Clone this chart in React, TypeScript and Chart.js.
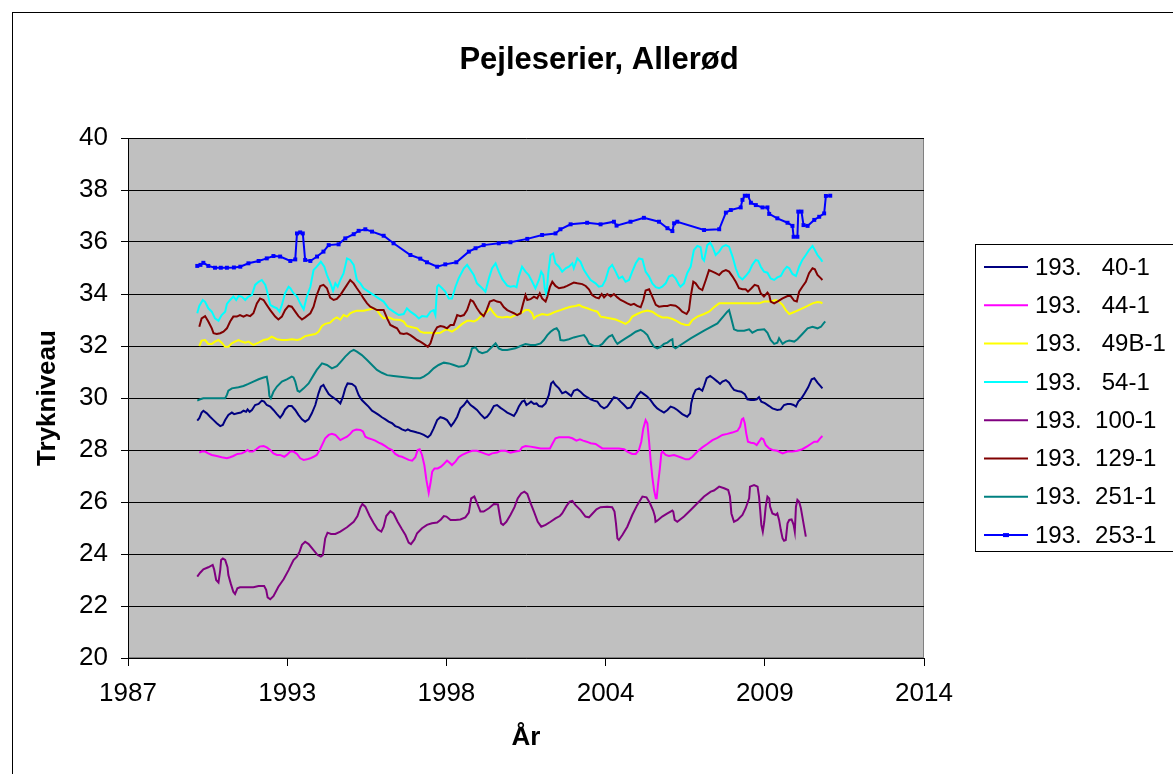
import React, { useEffect, useRef } from "react";
import { Chart, registerables } from "chart.js";

Chart.register(...registerables);

type Pt = [number, number];

const chartTitle = "Pejleserier, Allerød";
const xAxisTitle = "År";
const yAxisTitle = "Trykniveau";
const xTickLabels = ["1987", "1993", "1998", "2004", "2009", "2014"];
const xMin = 1987.608;
const xMax = 2014.984;
const yMin = 20;
const yMax = 40;
const yStep = 2;

const s40: Pt[] = [[1989.99,29.13],[1990.06,29.22],[1990.14,29.44],[1990.20,29.51],[1990.32,29.41],[1990.43,29.28],[1990.55,29.15],[1990.66,29.03],[1990.78,28.92],[1990.87,28.96],[1990.95,29.15],[1991.06,29.35],[1991.18,29.44],[1991.26,29.38],[1991.37,29.41],[1991.49,29.44],[1991.58,29.51],[1991.67,29.47],[1991.72,29.56],[1991.79,29.47],[1991.87,29.54],[1991.98,29.73],[1992.10,29.77],[1992.21,29.90],[1992.29,29.86],[1992.38,29.73],[1992.50,29.67],[1992.61,29.54],[1992.73,29.38],[1992.84,29.24],[1992.93,29.38],[1993.01,29.56],[1993.13,29.69],[1993.24,29.69],[1993.36,29.54],[1993.47,29.35],[1993.59,29.18],[1993.70,29.09],[1993.82,29.18],[1993.93,29.41],[1994.05,29.73],[1994.16,30.18],[1994.24,30.44],[1994.33,30.50],[1994.39,30.37],[1994.51,30.15],[1994.62,30.05],[1994.70,29.99],[1994.79,29.92],[1994.91,29.79],[1995.00,30.05],[1995.08,30.37],[1995.16,30.56],[1995.31,30.54],[1995.43,30.44],[1995.54,30.11],[1995.65,29.92],[1995.77,29.79],[1995.88,29.67],[1996.00,29.51],[1996.11,29.44],[1996.23,29.35],[1996.34,29.26],[1996.46,29.18],[1996.57,29.09],[1996.69,29.03],[1996.80,28.92],[1996.92,28.87],[1997.03,28.79],[1997.15,28.74],[1997.23,28.79],[1997.32,28.74],[1997.43,28.71],[1997.55,28.67],[1997.66,28.64],[1997.78,28.58],[1997.92,28.49],[1998.01,28.58],[1998.12,28.83],[1998.24,29.15],[1998.35,29.26],[1998.47,29.22],[1998.58,29.15],[1998.72,28.92],[1998.81,29.05],[1998.93,29.28],[1999.04,29.60],[1999.16,29.73],[1999.27,29.90],[1999.39,29.73],[1999.50,29.64],[1999.61,29.54],[1999.73,29.38],[1999.87,29.22],[1999.96,29.28],[2000.07,29.44],[2000.19,29.69],[2000.30,29.73],[2000.42,29.62],[2000.53,29.54],[2000.65,29.44],[2000.76,29.38],[2000.88,29.31],[2000.97,29.47],[2001.05,29.67],[2001.16,29.86],[2001.24,29.90],[2001.31,29.73],[2001.39,29.79],[2001.47,29.86],[2001.57,29.77],[2001.66,29.79],[2001.74,29.69],[2001.85,29.67],[2001.97,29.79],[2002.08,30.11],[2002.16,30.56],[2002.23,30.63],[2002.31,30.50],[2002.43,30.37],[2002.54,30.18],[2002.66,30.24],[2002.77,30.15],[2002.85,30.08],[2002.94,30.28],[2003.06,30.33],[2003.17,30.24],[2003.29,30.11],[2003.40,30.03],[2003.52,29.95],[2003.63,29.90],[2003.75,29.86],[2003.86,29.69],[2003.98,29.60],[2004.09,29.67],[2004.21,29.86],[2004.32,30.03],[2004.44,29.99],[2004.55,29.86],[2004.67,29.73],[2004.78,29.60],[2004.90,29.64],[2005.01,29.86],[2005.12,30.08],[2005.24,30.24],[2005.35,30.15],[2005.47,30.05],[2005.58,29.92],[2005.70,29.73],[2005.81,29.60],[2005.93,29.51],[2006.04,29.44],[2006.16,29.54],[2006.27,29.67],[2006.39,29.62],[2006.50,29.54],[2006.67,29.38],[2006.84,29.28],[2006.94,29.41],[2006.98,29.80],[2007.05,30.11],[2007.13,30.31],[2007.25,30.37],[2007.36,30.28],[2007.42,30.46],[2007.51,30.76],[2007.63,30.85],[2007.74,30.76],[2007.88,30.63],[2007.97,30.54],[2008.05,30.63],[2008.17,30.69],[2008.28,30.59],[2008.36,30.44],[2008.45,30.31],[2008.57,30.27],[2008.70,30.24],[2008.82,30.15],[2008.91,29.95],[2009.03,29.92],[2009.14,29.92],[2009.23,29.95],[2009.31,30.03],[2009.39,29.86],[2009.51,29.80],[2009.66,29.69],[2009.77,29.60],[2009.94,29.54],[2010.06,29.56],[2010.17,29.73],[2010.29,29.77],[2010.40,29.77],[2010.50,29.73],[2010.58,29.67],[2010.66,29.86],[2010.77,29.99],[2010.88,30.18],[2011.00,30.41],[2011.12,30.72],[2011.21,30.76],[2011.32,30.59],[2011.44,30.44],[2011.49,30.37]];

const s44: Pt[] = [[1990.06,27.90],[1990.14,27.94],[1990.26,27.94],[1990.37,27.87],[1990.49,27.81],[1990.66,27.77],[1990.83,27.72],[1991.01,27.68],[1991.12,27.72],[1991.23,27.77],[1991.37,27.85],[1991.52,27.87],[1991.64,27.94],[1991.72,28.00],[1991.79,27.94],[1991.90,27.94],[1992.02,28.03],[1992.13,28.13],[1992.27,28.15],[1992.38,28.10],[1992.50,28.00],[1992.61,27.87],[1992.73,27.81],[1992.84,27.81],[1992.98,27.74],[1993.07,27.81],[1993.19,27.94],[1993.30,27.94],[1993.42,27.85],[1993.53,27.68],[1993.65,27.62],[1993.76,27.64],[1993.88,27.68],[1993.99,27.74],[1994.10,27.81],[1994.20,28.00],[1994.28,28.19],[1994.39,28.45],[1994.51,28.58],[1994.62,28.62],[1994.74,28.58],[1994.85,28.45],[1994.91,28.38],[1995.02,28.45],[1995.14,28.51],[1995.25,28.62],[1995.34,28.74],[1995.46,28.79],[1995.60,28.77],[1995.69,28.71],[1995.77,28.51],[1995.88,28.45],[1996.00,28.41],[1996.11,28.36],[1996.23,28.28],[1996.34,28.23],[1996.46,28.15],[1996.57,28.06],[1996.69,28.00],[1996.80,27.85],[1996.92,27.77],[1997.03,27.74],[1997.15,27.68],[1997.26,27.62],[1997.38,27.59],[1997.49,27.72],[1997.57,28.00],[1997.64,28.03],[1997.72,27.81],[1997.80,27.42],[1997.87,26.85],[1997.95,26.36],[1998.01,26.72],[1998.07,27.17],[1998.15,27.29],[1998.26,27.29],[1998.37,27.36],[1998.47,27.46],[1998.58,27.59],[1998.67,27.51],[1998.75,27.42],[1998.87,27.55],[1998.98,27.72],[1999.10,27.81],[1999.27,27.90],[1999.44,27.97],[1999.61,27.97],[1999.79,27.90],[1999.90,27.85],[2000.02,27.81],[2000.13,27.87],[2000.30,27.90],[2000.42,27.97],[2000.59,27.97],[2000.76,27.90],[2000.93,27.94],[2001.08,27.97],[2001.16,28.10],[2001.28,28.15],[2001.45,28.13],[2001.62,28.10],[2001.80,28.06],[2002.12,28.06],[2002.20,28.23],[2002.31,28.45],[2002.43,28.49],[2002.60,28.49],[2002.77,28.49],[2002.89,28.45],[2003.03,28.36],[2003.15,28.41],[2003.26,28.36],[2003.38,28.32],[2003.52,28.26],[2003.69,28.23],[2003.80,28.15],[2003.92,28.06],[2004.09,28.06],[2004.32,28.06],[2004.49,28.06],[2004.67,28.03],[2004.78,27.94],[2004.95,27.85],[2005.07,27.85],[2005.18,28.00],[2005.26,28.32],[2005.33,28.83],[2005.41,29.15],[2005.47,29.03],[2005.53,28.32],[2005.58,27.62],[2005.64,26.97],[2005.70,26.46],[2005.76,26.14],[2005.79,26.14],[2005.84,26.72],[2005.90,27.29],[2005.95,27.87],[2005.99,27.94],[2006.10,27.81],[2006.21,27.77],[2006.39,27.81],[2006.61,27.72],[2006.79,27.64],[2006.90,27.64],[2007.02,27.74],[2007.19,27.94],[2007.36,28.10],[2007.53,28.23],[2007.71,28.38],[2007.88,28.47],[2008.05,28.58],[2008.22,28.62],[2008.39,28.67],[2008.57,28.74],[2008.66,28.90],[2008.72,29.18],[2008.77,29.22],[2008.82,29.03],[2008.87,28.64],[2008.93,28.32],[2009.03,28.28],[2009.14,28.26],[2009.23,28.19],[2009.31,28.32],[2009.39,28.45],[2009.46,28.41],[2009.54,28.19],[2009.66,28.06],[2009.77,28.00],[2009.94,27.97],[2010.12,27.87],[2010.29,27.94],[2010.46,27.94],[2010.63,27.97],[2010.80,28.03],[2010.98,28.15],[2011.09,28.23],[2011.21,28.32],[2011.32,28.32],[2011.41,28.45],[2011.49,28.54]];

const s49B: Pt[] = [[1990.06,32.00],[1990.14,32.21],[1990.26,32.23],[1990.37,32.08],[1990.49,32.08],[1990.60,32.17],[1990.72,32.23],[1990.83,32.13],[1990.95,31.97],[1991.06,31.97],[1991.18,32.10],[1991.29,32.17],[1991.41,32.23],[1991.52,32.17],[1991.64,32.13],[1991.75,32.17],[1991.92,32.04],[1992.10,32.13],[1992.27,32.23],[1992.41,32.26],[1992.55,32.36],[1992.73,32.26],[1992.90,32.23],[1993.07,32.23],[1993.24,32.26],[1993.42,32.23],[1993.53,32.26],[1993.70,32.38],[1993.88,32.42],[1994.05,32.46],[1994.16,32.55],[1994.28,32.77],[1994.39,32.85],[1994.56,32.90],[1994.68,33.03],[1994.79,33.10],[1994.91,33.01],[1995.02,33.19],[1995.14,33.13],[1995.25,33.26],[1995.37,33.32],[1995.48,33.36],[1995.71,33.36],[1995.94,33.41],[1996.06,33.45],[1996.17,33.38],[1996.29,33.19],[1996.40,33.06],[1996.57,33.10],[1996.74,33.02],[1996.97,33.00],[1997.09,32.94],[1997.20,32.77],[1997.38,32.72],[1997.55,32.68],[1997.66,32.55],[1997.78,32.51],[1998.01,32.51],[1998.18,32.49],[1998.35,32.51],[1998.47,32.59],[1998.58,32.64],[1998.75,32.55],[1998.93,32.68],[1999.10,32.85],[1999.27,32.97],[1999.39,32.97],[1999.50,32.94],[1999.61,33.00],[1999.79,33.19],[1999.96,33.32],[2000.07,33.45],[2000.19,33.26],[2000.30,33.13],[2000.48,33.10],[2000.65,33.12],[2000.76,33.10],[2000.93,33.19],[2001.11,33.26],[2001.28,33.38],[2001.39,33.38],[2001.51,33.26],[2001.57,33.06],[2001.66,33.15],[2001.85,33.23],[2002.03,33.19],[2002.14,33.23],[2002.31,33.32],[2002.48,33.38],[2002.66,33.45],[2002.83,33.51],[2003.00,33.54],[2003.12,33.58],[2003.23,33.51],[2003.40,33.45],[2003.57,33.38],[2003.75,33.32],[2003.86,33.13],[2004.03,33.10],[2004.21,33.06],[2004.38,33.02],[2004.55,32.94],[2004.72,32.85],[2004.84,32.94],[2004.95,33.13],[2005.12,33.23],[2005.30,33.32],[2005.47,33.36],[2005.64,33.32],[2005.81,33.19],[2005.98,33.10],[2006.16,33.10],[2006.33,33.04],[2006.50,32.95],[2006.61,32.87],[2006.79,32.81],[2006.90,32.81],[2007.02,33.00],[2007.19,33.13],[2007.42,33.23],[2007.59,33.32],[2007.76,33.49],[2007.94,33.64],[2008.11,33.64],[2008.57,33.64],[2009.03,33.64],[2009.31,33.64],[2009.49,33.71],[2009.71,33.71],[2009.89,33.77],[2010.00,33.71],[2010.12,33.58],[2010.23,33.38],[2010.35,33.23],[2010.46,33.28],[2010.63,33.36],[2010.80,33.45],[2010.98,33.54],[2011.15,33.64],[2011.32,33.69],[2011.44,33.67],[2011.49,33.64]];

const s54: Pt[] = [[1989.99,33.26],[1990.06,33.54],[1990.18,33.77],[1990.26,33.70],[1990.37,33.45],[1990.49,33.32],[1990.60,33.06],[1990.72,32.97],[1990.83,33.19],[1990.95,33.32],[1991.01,33.62],[1991.12,33.77],[1991.23,33.90],[1991.33,33.77],[1991.41,33.92],[1991.52,33.90],[1991.64,33.77],[1991.75,33.90],[1991.87,33.96],[1991.98,34.35],[1992.10,34.47],[1992.21,34.54],[1992.33,34.35],[1992.38,34.15],[1992.50,33.58],[1992.61,33.51],[1992.73,33.45],[1992.82,33.32],[1992.90,33.58],[1993.01,34.03],[1993.13,34.28],[1993.19,34.22],[1993.30,34.03],[1993.42,33.90],[1993.53,33.64],[1993.65,33.41],[1993.76,33.90],[1993.88,34.28],[1993.99,34.92],[1994.10,35.05],[1994.24,35.24],[1994.36,35.05],[1994.45,34.73],[1994.56,34.44],[1994.66,34.12],[1994.74,34.41],[1994.82,34.28],[1994.91,34.54],[1995.02,34.79],[1995.14,35.37],[1995.25,35.31],[1995.37,35.12],[1995.48,34.54],[1995.60,34.41],[1995.71,34.22],[1995.88,34.09],[1996.06,33.96],[1996.23,33.83],[1996.40,33.71],[1996.57,33.45],[1996.74,33.32],[1996.92,33.19],[1997.09,33.23],[1997.20,33.45],[1997.32,33.32],[1997.49,33.19],[1997.61,33.06],[1997.72,33.15],[1997.89,33.13],[1998.01,33.32],[1998.12,33.38],[1998.18,33.19],[1998.24,34.28],[1998.29,34.35],[1998.41,34.22],[1998.52,34.09],[1998.64,33.83],[1998.75,33.83],[1998.87,34.28],[1998.98,34.60],[1999.16,34.99],[1999.27,35.12],[1999.39,34.92],[1999.50,34.73],[1999.61,34.41],[1999.79,34.22],[1999.90,34.09],[2000.02,34.60],[2000.13,34.99],[2000.25,35.18],[2000.36,34.86],[2000.48,34.57],[2000.65,34.32],[2000.76,34.28],[2000.88,34.31],[2000.97,34.26],[2001.05,34.67],[2001.16,35.05],[2001.28,34.86],[2001.39,34.73],[2001.51,34.47],[2001.62,34.22],[2001.74,34.54],[2001.82,34.86],[2001.89,34.73],[2001.94,34.22],[2002.00,33.96],[2002.06,34.79],[2002.14,35.50],[2002.23,35.56],[2002.31,35.18],[2002.43,35.05],[2002.54,34.86],[2002.66,34.99],[2002.77,35.05],[2002.89,35.18],[2002.94,34.99],[2003.06,35.37],[2003.17,35.24],[2003.29,34.92],[2003.40,34.73],[2003.52,34.54],[2003.69,34.41],[2003.80,34.28],[2003.92,34.31],[2004.03,34.54],[2004.15,34.99],[2004.26,35.12],[2004.38,34.86],[2004.49,34.60],[2004.61,34.67],[2004.72,34.47],[2004.84,34.54],[2004.95,34.86],[2005.07,35.18],[2005.18,35.37],[2005.30,35.33],[2005.41,34.86],[2005.53,34.67],[2005.64,34.41],[2005.76,34.26],[2005.87,34.22],[2005.98,34.28],[2006.10,34.41],[2006.21,34.67],[2006.33,34.73],[2006.44,34.60],[2006.56,34.35],[2006.61,34.28],[2006.73,34.41],[2006.84,34.80],[2006.96,35.05],[2007.07,35.69],[2007.19,35.85],[2007.30,35.80],[2007.36,35.37],[2007.42,35.28],[2007.53,35.88],[2007.63,35.97],[2007.71,35.82],[2007.82,35.50],[2007.94,35.63],[2008.05,35.82],[2008.17,35.88],[2008.28,35.82],[2008.40,35.44],[2008.51,34.99],[2008.62,34.67],[2008.74,34.56],[2008.85,34.69],[2008.97,34.86],[2009.08,35.12],[2009.20,35.31],[2009.28,35.28],[2009.37,35.05],[2009.48,34.86],[2009.60,34.82],[2009.71,34.60],[2009.83,34.54],[2009.94,34.64],[2010.06,34.69],[2010.17,34.92],[2010.27,35.05],[2010.35,34.99],[2010.46,34.77],[2010.58,34.69],[2010.69,35.05],[2010.80,35.31],[2010.92,35.50],[2011.03,35.69],[2011.15,35.85],[2011.23,35.69],[2011.32,35.50],[2011.44,35.33],[2011.49,35.24]];

const s100: Pt[] = [[1989.99,23.13],[1990.09,23.28],[1990.20,23.41],[1990.37,23.49],[1990.52,23.58],[1990.57,23.41],[1990.64,23.00],[1990.72,22.90],[1990.78,23.38],[1990.81,23.77],[1990.87,23.83],[1990.95,23.77],[1991.03,23.49],[1991.06,23.19],[1991.14,22.87],[1991.23,22.55],[1991.29,22.46],[1991.37,22.68],[1991.46,22.72],[1991.69,22.72],[1991.92,22.72],[1992.10,22.77],[1992.29,22.77],[1992.36,22.62],[1992.41,22.33],[1992.50,22.26],[1992.61,22.38],[1992.78,22.74],[1992.96,23.03],[1993.13,23.38],[1993.30,23.77],[1993.42,23.90],[1993.51,24.09],[1993.59,24.35],[1993.70,24.47],[1993.82,24.38],[1993.99,24.15],[1994.13,23.96],[1994.24,23.90],[1994.31,23.96],[1994.39,24.60],[1994.47,24.82],[1994.59,24.77],[1994.74,24.77],[1994.91,24.86],[1995.14,25.03],[1995.37,25.24],[1995.50,25.46],[1995.60,25.79],[1995.67,25.92],[1995.77,25.82],[1995.92,25.46],[1996.06,25.18],[1996.19,24.95],[1996.32,24.86],[1996.40,25.05],[1996.49,25.46],[1996.63,25.65],[1996.74,25.56],[1996.88,25.24],[1997.03,24.95],[1997.15,24.73],[1997.26,24.44],[1997.34,24.38],[1997.46,24.56],[1997.55,24.80],[1997.72,24.99],[1997.89,25.12],[1998.06,25.18],[1998.24,25.21],[1998.37,25.33],[1998.47,25.46],[1998.56,25.44],[1998.70,25.31],[1998.87,25.31],[1999.04,25.33],[1999.21,25.41],[1999.33,25.59],[1999.41,26.14],[1999.52,26.21],[1999.61,25.97],[1999.73,25.63],[1999.84,25.63],[2000.02,25.76],[2000.19,25.92],[2000.33,25.91],[2000.39,25.50],[2000.44,25.18],[2000.51,25.12],[2000.62,25.24],[2000.76,25.50],[2000.90,25.80],[2001.01,26.14],[2001.13,26.33],[2001.24,26.40],[2001.34,26.31],[2001.45,25.97],[2001.57,25.63],[2001.70,25.24],[2001.82,25.05],[2001.97,25.12],[2002.14,25.24],[2002.31,25.37],[2002.46,25.46],[2002.54,25.56],[2002.69,25.85],[2002.80,26.01],[2002.89,26.04],[2003.00,25.88],[2003.17,25.69],[2003.34,25.44],[2003.46,25.41],[2003.57,25.54],[2003.72,25.72],[2003.86,25.80],[2004.09,25.82],[2004.26,25.80],[2004.34,25.63],[2004.39,25.18],[2004.44,24.60],[2004.49,24.54],[2004.61,24.73],[2004.78,25.05],[2004.95,25.50],[2005.12,25.88],[2005.30,26.21],[2005.44,26.18],[2005.56,25.95],[2005.67,25.67],[2005.73,25.44],[2005.75,25.24],[2005.81,25.28],[2005.98,25.44],[2006.16,25.56],[2006.33,25.67],[2006.36,25.63],[2006.41,25.31],[2006.50,25.24],[2006.73,25.44],[2006.96,25.69],[2007.19,25.95],[2007.42,26.21],[2007.65,26.40],[2007.76,26.44],[2007.94,26.59],[2008.11,26.53],[2008.25,26.46],[2008.31,26.21],[2008.36,25.56],[2008.45,25.24],[2008.57,25.31],[2008.74,25.50],[2008.85,25.76],[2008.97,26.14],[2009.00,26.59],[2009.14,26.65],[2009.26,26.59],[2009.31,26.21],[2009.35,25.69],[2009.39,25.12],[2009.44,24.86],[2009.49,25.24],[2009.54,25.82],[2009.60,26.21],[2009.66,26.14],[2009.69,25.82],[2009.77,25.56],[2009.89,25.50],[2009.94,25.56],[2010.00,25.31],[2010.06,24.92],[2010.12,24.60],[2010.17,24.51],[2010.23,24.54],[2010.29,25.18],[2010.35,25.31],[2010.43,25.33],[2010.50,25.12],[2010.54,24.86],[2010.58,25.82],[2010.63,26.08],[2010.69,26.01],[2010.75,25.76],[2010.80,25.44],[2010.86,25.05],[2010.92,24.67]];

const s129: Pt[] = [[1990.06,32.74],[1990.14,33.06],[1990.26,33.15],[1990.37,32.94],[1990.49,32.68],[1990.55,32.49],[1990.66,32.46],[1990.78,32.49],[1990.89,32.55],[1991.01,32.68],[1991.12,32.94],[1991.23,33.13],[1991.35,33.13],[1991.46,33.19],[1991.58,33.13],[1991.69,33.19],[1991.81,33.15],[1991.92,33.26],[1992.04,33.64],[1992.15,33.83],[1992.27,33.77],[1992.38,33.58],[1992.50,33.38],[1992.67,33.13],[1992.78,33.02],[1992.90,33.13],[1993.01,33.38],[1993.13,33.54],[1993.24,33.51],[1993.36,33.32],[1993.47,33.15],[1993.59,33.02],[1993.70,33.10],[1993.88,33.26],[1993.99,33.51],[1994.10,33.96],[1994.22,34.31],[1994.33,34.35],[1994.45,34.22],[1994.56,33.86],[1994.68,33.77],[1994.79,33.81],[1994.91,33.96],[1995.02,34.15],[1995.14,34.35],[1995.25,34.54],[1995.37,34.41],[1995.48,34.22],[1995.60,34.03],[1995.71,33.83],[1995.83,33.64],[1995.94,33.51],[1996.06,33.45],[1996.17,33.38],[1996.29,33.38],[1996.40,33.38],[1996.52,33.06],[1996.63,32.81],[1996.75,32.74],[1996.86,32.68],[1996.97,32.49],[1997.09,32.46],[1997.20,32.49],[1997.32,32.42],[1997.43,32.33],[1997.55,32.23],[1997.66,32.17],[1997.78,32.08],[1997.92,31.97],[1998.01,32.10],[1998.12,32.49],[1998.24,32.72],[1998.35,32.77],[1998.47,32.74],[1998.58,32.68],[1998.70,32.81],[1998.81,32.81],[1998.93,33.19],[1999.04,33.15],[1999.16,33.19],[1999.27,33.38],[1999.39,33.77],[1999.48,33.71],[1999.61,33.45],[1999.73,33.26],[1999.84,33.15],[1999.94,33.38],[2000.05,33.71],[2000.19,33.77],[2000.30,33.71],[2000.42,33.68],[2000.53,33.50],[2000.65,33.38],[2000.76,33.32],[2000.88,33.26],[2000.99,33.19],[2001.11,33.26],[2001.20,33.64],[2001.28,33.96],[2001.34,33.77],[2001.45,33.80],[2001.57,33.90],[2001.68,33.83],[2001.77,34.03],[2001.85,33.83],[2001.97,33.71],[2002.03,33.90],[2002.12,34.28],[2002.20,34.47],[2002.31,34.31],[2002.43,34.22],[2002.60,34.26],[2002.71,34.31],[2002.83,34.38],[2002.94,34.44],[2003.06,34.41],[2003.23,34.38],[2003.35,34.31],[2003.46,34.18],[2003.57,33.96],[2003.69,33.87],[2003.80,33.83],[2003.90,34.00],[2003.98,33.87],[2004.09,34.00],[2004.21,33.90],[2004.32,34.00],[2004.44,33.87],[2004.55,33.77],[2004.67,33.71],[2004.78,33.64],[2004.90,33.58],[2005.01,33.62],[2005.12,33.54],[2005.24,33.49],[2005.33,33.77],[2005.41,34.13],[2005.53,34.18],[2005.64,33.90],[2005.76,33.58],[2005.87,33.51],[2006.04,33.54],[2006.16,33.54],[2006.27,33.58],[2006.44,33.55],[2006.56,33.45],[2006.67,33.32],[2006.82,33.23],[2006.90,33.38],[2006.96,33.90],[2007.05,34.47],[2007.13,34.41],[2007.25,34.22],[2007.36,34.15],[2007.48,34.54],[2007.59,34.92],[2007.71,34.86],[2007.82,34.80],[2007.94,34.73],[2008.05,34.86],[2008.17,34.92],[2008.28,34.86],[2008.40,34.67],[2008.51,34.47],[2008.62,34.22],[2008.74,34.18],[2008.85,34.18],[2008.93,34.09],[2009.05,34.22],[2009.16,34.35],[2009.28,34.31],[2009.37,34.03],[2009.48,33.90],[2009.60,34.05],[2009.66,33.96],[2009.71,33.71],[2009.83,33.64],[2009.94,33.71],[2010.12,33.83],[2010.29,33.92],[2010.40,33.92],[2010.52,33.74],[2010.61,33.71],[2010.69,34.09],[2010.80,34.28],[2010.92,34.47],[2011.03,34.80],[2011.15,34.99],[2011.23,34.95],[2011.32,34.73],[2011.44,34.60],[2011.49,34.54]];

const s251: Pt[] = [[1989.99,29.90],[1990.09,29.95],[1990.20,29.99],[1990.55,29.99],[1990.95,29.99],[1991.01,30.12],[1991.06,30.28],[1991.18,30.37],[1991.41,30.41],[1991.58,30.46],[1991.75,30.54],[1991.92,30.63],[1992.10,30.72],[1992.27,30.79],[1992.38,30.82],[1992.44,30.44],[1992.47,30.08],[1992.52,29.99],[1992.61,30.24],[1992.73,30.44],[1992.90,30.63],[1993.07,30.72],[1993.24,30.82],[1993.30,30.79],[1993.36,30.63],[1993.44,30.28],[1993.51,30.24],[1993.65,30.37],[1993.82,30.56],[1993.99,30.88],[1994.10,31.08],[1994.28,31.33],[1994.45,31.27],[1994.62,31.14],[1994.79,31.22],[1994.91,31.37],[1995.08,31.59],[1995.25,31.78],[1995.37,31.85],[1995.48,31.78],[1995.65,31.65],[1995.83,31.46],[1996.00,31.27],[1996.17,31.08],[1996.34,30.97],[1996.52,30.88],[1996.74,30.85],[1996.97,30.82],[1997.20,30.79],[1997.43,30.76],[1997.66,30.76],[1997.78,30.82],[1997.95,30.95],[1998.12,31.14],[1998.29,31.27],[1998.47,31.36],[1998.64,31.33],[1998.81,31.27],[1998.98,31.20],[1999.16,31.23],[1999.27,31.33],[1999.36,31.59],[1999.44,31.91],[1999.56,31.95],[1999.67,31.78],[1999.79,31.72],[1999.96,31.78],[2000.13,31.97],[2000.25,32.10],[2000.36,31.91],[2000.48,31.85],[2000.65,31.85],[2000.93,31.91],[2001.11,32.00],[2001.28,32.08],[2001.45,32.04],[2001.62,32.04],[2001.80,32.10],[2001.91,32.23],[2002.03,32.42],[2002.14,32.55],[2002.25,32.64],[2002.35,32.68],[2002.43,32.55],[2002.48,32.23],[2002.60,32.21],[2002.77,32.26],[2002.94,32.33],[2003.12,32.38],[2003.29,32.42],[2003.38,32.29],[2003.46,32.10],[2003.63,32.00],[2003.80,32.00],[2003.92,32.08],[2004.03,32.23],[2004.15,32.36],[2004.26,32.42],[2004.38,32.17],[2004.44,32.08],[2004.55,32.17],[2004.72,32.29],[2004.90,32.42],[2005.07,32.55],[2005.24,32.62],[2005.35,32.55],[2005.47,32.42],[2005.58,32.17],[2005.70,31.97],[2005.81,31.91],[2005.93,31.97],[2006.04,32.08],[2006.16,32.13],[2006.27,32.23],[2006.33,32.26],[2006.36,31.97],[2006.44,31.91],[2006.56,32.00],[2006.96,32.29],[2007.42,32.59],[2007.88,32.87],[2008.22,33.32],[2008.28,33.38],[2008.34,33.13],[2008.45,32.64],[2008.57,32.59],[2008.80,32.59],[2008.97,32.64],[2009.08,32.51],[2009.26,32.62],[2009.49,32.64],[2009.60,32.51],[2009.71,32.23],[2009.83,32.08],[2009.94,32.13],[2010.00,32.30],[2010.12,32.08],[2010.23,32.17],[2010.35,32.21],[2010.52,32.17],[2010.63,32.26],[2010.80,32.46],[2010.98,32.68],[2011.15,32.74],[2011.32,32.68],[2011.44,32.74],[2011.55,32.90],[2011.59,32.94]];

const s253: Pt[] = [[1989.99,35.08],[1990.10,35.12],[1990.20,35.20],[1990.37,35.08],[1990.60,35.01],[1990.80,35.01],[1991.01,35.01],[1991.25,35.02],[1991.47,35.05],[1991.75,35.18],[1992.10,35.27],[1992.38,35.37],[1992.61,35.46],[1992.84,35.44],[1993.19,35.27],[1993.36,35.33],[1993.42,36.33],[1993.53,36.37],[1993.62,36.33],[1993.70,35.31],[1993.88,35.27],[1994.11,35.44],[1994.33,35.63],[1994.51,35.88],[1994.85,35.91],[1995.08,36.14],[1995.37,36.30],[1995.54,36.43],[1995.77,36.49],[1996.00,36.40],[1996.40,36.24],[1996.74,35.95],[1997.32,35.50],[1997.66,35.36],[1997.89,35.22],[1998.24,35.05],[1998.52,35.14],[1998.90,35.22],[1999.33,35.63],[1999.56,35.76],[1999.84,35.88],[2000.36,35.95],[2000.76,35.99],[2001.34,36.12],[2001.85,36.27],[2002.31,36.33],[2002.48,36.49],[2002.83,36.68],[2003.40,36.74],[2003.86,36.68],[2004.32,36.78],[2004.41,36.63],[2004.89,36.78],[2005.35,36.93],[2005.87,36.78],[2006.16,36.53],[2006.33,36.42],[2006.39,36.72],[2006.50,36.78],[2007.42,36.46],[2007.94,36.49],[2008.17,37.13],[2008.34,37.23],[2008.68,37.33],[2008.74,37.62],[2008.82,37.78],[2008.93,37.78],[2009.03,37.51],[2009.20,37.42],[2009.43,37.33],[2009.60,37.33],[2009.66,37.08],[2009.94,36.91],[2010.29,36.74],[2010.46,36.62],[2010.50,36.20],[2010.63,36.20],[2010.66,37.17],[2010.77,37.17],[2010.84,36.65],[2010.98,36.62],[2011.21,36.85],[2011.38,36.97],[2011.55,37.10],[2011.61,37.77],[2011.76,37.78]];

const seriesNames = [
  "193.   40-1",
  "193.   44-1",
  "193.   49B-1",
  "193.   54-1",
  "193.  100-1",
  "193.  129-1",
  "193.  251-1",
  "193.  253-1",
];
const seriesColors = ["#000080", "#FF00FF", "#FFFF00", "#00FFFF", "#800080", "#800000", "#008080", "#0000FF"];
const seriesMarkers = [false, false, false, false, false, false, false, true];
const seriesData: Pt[][] = [s40, s44, s49B, s54, s100, s129, s251, s253];

const FONT = '"Liberation Sans", Arial, Helvetica, sans-serif';

const decorPlugin = {
  id: "excelDecor",
  beforeDraw(chart: any) {
    const { ctx, chartArea: a } = chart;
    ctx.save();
    ctx.fillStyle = "#FFFFFF";
    ctx.fillRect(0, 0, chart.width, chart.height);
    ctx.strokeStyle = "#000000";
    ctx.lineWidth = 1;
    ctx.strokeRect(12.5, 12.5, chart.width + 40, chart.height + 40);
    ctx.fillStyle = "#C0C0C0";
    ctx.fillRect(a.left, a.top, a.right - a.left, a.bottom - a.top);
    ctx.strokeStyle = "#808080";
    ctx.strokeRect(a.left + 0.5, a.top + 0.5, a.right - a.left - 1, a.bottom - a.top - 1);
    ctx.restore();
  },
  afterDraw(chart: any) {
    const { ctx, chartArea: a } = chart;
    ctx.save();
    ctx.fillStyle = "#000";
    ctx.textAlign = "center";
    ctx.textBaseline = "middle";
    ctx.font = `bold 31px ${FONT}`;
    ctx.fillText(chartTitle, 599, 60);
    ctx.font = `bold 26px ${FONT}`;
    ctx.fillText(xAxisTitle, (a.left + a.right) / 2, 738);
    ctx.save();
    ctx.translate(48, (a.top + a.bottom) / 2);
    ctx.rotate(-Math.PI / 2);
    ctx.fillText(yAxisTitle, 0, 0);
    ctx.restore();

    // legend
    const lx = 975.5, ly = 244.5, lh = 307;
    ctx.fillStyle = "#FFFFFF";
    ctx.fillRect(lx, ly, 300, lh);
    ctx.strokeStyle = "#000";
    ctx.lineWidth = 1;
    ctx.strokeRect(lx, ly, 300, lh);
    ctx.font = `24px ${FONT}`;
    ctx.textAlign = "left";
    seriesNames.forEach((name, i) => {
      const y = 267 + i * 38.3;
      ctx.strokeStyle = seriesColors[i];
      ctx.lineWidth = 2;
      ctx.beginPath();
      ctx.moveTo(984, y);
      ctx.lineTo(1028, y);
      ctx.stroke();
      if (seriesMarkers[i]) {
        ctx.fillStyle = seriesColors[i];
        ctx.fillRect(1003, y - 2, 6, 4);
      }
      ctx.fillStyle = "#000";
      ctx.fillText(name, 1035, y + 1);
    });
    ctx.restore();
  },
};

export default function App() {
  const ref = useRef<HTMLCanvasElement>(null);
  useEffect(() => {
    const canvas = ref.current;
    if (!canvas) return;
    const chart = new Chart(canvas, {
      type: "line",
      data: {
        datasets: seriesData.map((pts, i) => ({
          label: seriesNames[i],
          data: pts.map(([x, y]) => ({ x, y })),
          borderColor: seriesColors[i],
          backgroundColor: seriesColors[i],
          borderWidth: 2,
          pointRadius: seriesMarkers[i] ? 2.8 : 0,
          pointStyle: "rect",
          pointBorderWidth: 0,
          pointHoverRadius: 0,
          tension: 0,
          fill: false,
          order: seriesData.length - i,
        })),
      },
      options: {
        responsive: false,
        animation: false,
        events: [],
        layout: { padding: { left: 0, top: 138, right: 249, bottom: 0 } },
        plugins: {
          legend: { display: false },
          title: { display: false },
          tooltip: { enabled: false },
        },
        scales: {
          x: {
            type: "linear",
            min: xMin,
            max: xMax,
            afterBuildTicks: (s: any) => {
              s.ticks = xTickLabels.map((_, i) => ({
                value: xMin + (i * (xMax - xMin)) / (xTickLabels.length - 1),
              }));
            },
            afterFit: (s: any) => {
              s.height = 116;
            },
            ticks: {
              autoSkip: false,
              maxRotation: 0,
              minRotation: 0,
              color: "#000",
              font: { family: FONT, size: 26 },
              padding: 12,
              callback: (_v: any, i: number) => xTickLabels[i],
            },
            grid: { drawOnChartArea: false, drawTicks: true, tickLength: 8, color: "#000", lineWidth: 1 },
            border: { display: true, color: "#000", width: 1 },
          },
          y: {
            type: "linear",
            min: yMin,
            max: yMax,
            afterFit: (s: any) => {
              s.width = 128;
            },
            ticks: { stepSize: yStep, color: "#000", font: { family: FONT, size: 26 }, padding: 13 },
            grid: { color: "#000", lineWidth: 1, tickLength: 7, drawTicks: true },
            border: { display: true, color: "#000", width: 1 },
          },
        },
      } as any,
      plugins: [decorPlugin],
    });
    return () => chart.destroy();
  }, []);
  return (
    <div style={{ position: "fixed", left: 0, top: 0, width: 1173, height: 774, background: "#fff" }}>
      <canvas ref={ref} width={1173} height={774} style={{ display: "block", width: 1173, height: 774 }} />
    </div>
  );
}
